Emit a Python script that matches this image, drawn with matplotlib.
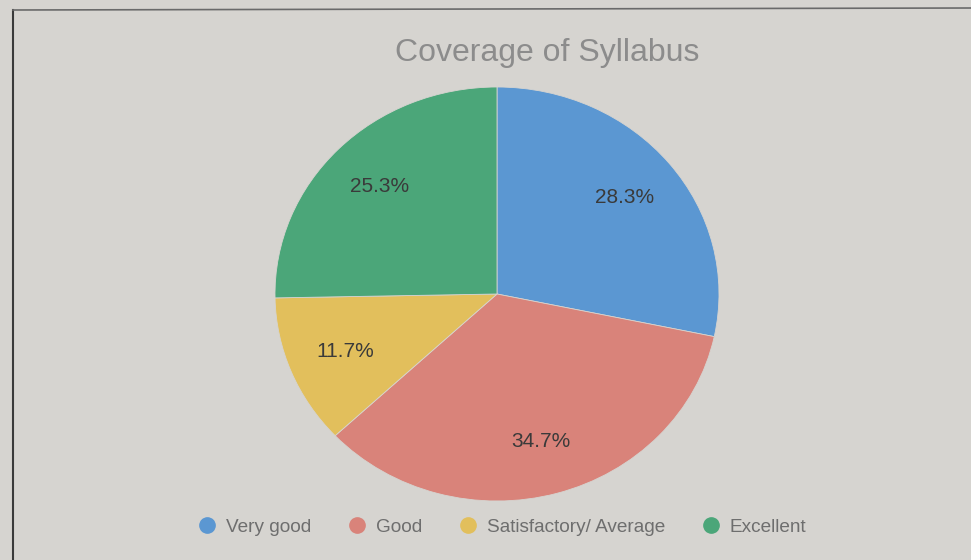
import matplotlib
matplotlib.use("Agg")
import matplotlib.pyplot as plt
from matplotlib.lines import Line2D

categories = ["Very good", "Good", "Satisfactory/ Average", "Excellent"]
values = [28.3, 34.7, 11.7, 25.3]
colors = ["#5b97d2", "#d9837a", "#e2bf5c", "#4ba679"]
title = "Coverage of Syllabus"

plt.rcParams['font.family'] = ['Liberation Sans', 'DejaVu Sans']

W, H = 971, 560
bg = "#d6d4d0"
fig = plt.figure(figsize=(W / 100, H / 100), dpi=100, facecolor=bg)

# border of the chart box (photo frame)
fig.add_artist(Line2D([13 / W, 13 / W], [0, 1 - 10 / H], color="#3a3a3a", lw=1.5))
fig.add_artist(Line2D([13 / W, 1], [1 - 10 / H, 1 - 8 / H], color="#6a6a6a", lw=1.2))

cx, cy, rx, ry = 497, 294, 222, 207
ax = fig.add_axes([(cx - rx) / W, 1 - (cy + ry) / H, 2 * rx / W, 2 * ry / H])
ax.set_facecolor("none")
wedges, texts, autotexts = ax.pie(
    values, colors=colors, startangle=90, counterclock=False,
    autopct="%.1f%%", pctdistance=0.74, radius=1.0,
    wedgeprops=dict(linewidth=0.6, edgecolor=bg),
    textprops=dict(fontsize=15, color="#3a3a3a"))
ax.set_xlim(-1, 1)
ax.set_ylim(-1, 1)
ax.set_aspect("auto")
ax.axis("off")

fig.text(547 / W, 1 - 53 / H, title, ha="center", va="center",
         fontsize=23, color="#8c8c8c")

leg = fig.legend(
    [Line2D([], [], marker="o", ls="", markersize=11, markerfacecolor=c, markeredgecolor=c)
     for c in colors],
    categories, loc="center", bbox_to_anchor=(502 / W, 1 - 527 / H),
    ncol=4, frameon=False, fontsize=13.7, handletextpad=0.5, columnspacing=1.9,
    labelcolor="#6e6e6e", handlelength=1.0)

fig.savefig("out.png", dpi=100, facecolor=fig.get_facecolor())
